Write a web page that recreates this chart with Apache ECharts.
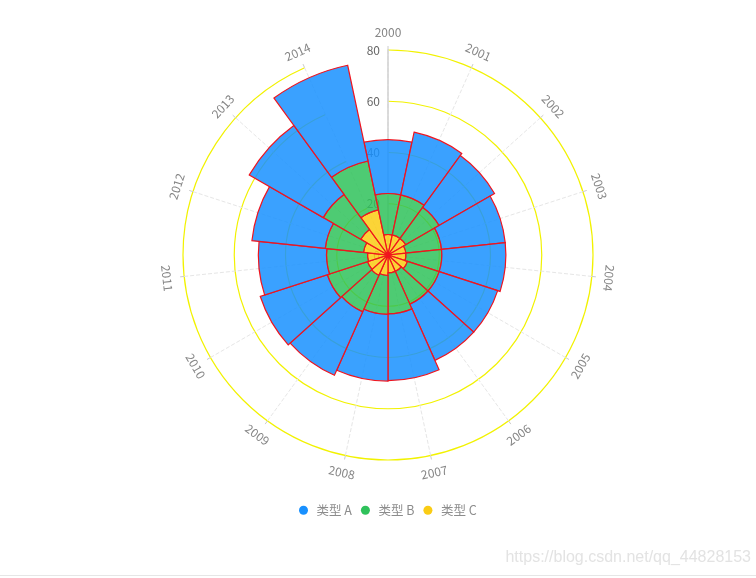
<!DOCTYPE html>
<html>
<head>
<meta charset="utf-8">
<script src="https://cdn.jsdelivr.net/npm/echarts@6/dist/echarts.min.js"></script>
<style>html,body{margin:0;padding:0;background:#fff}#c{width:756px;height:578px}</style>
</head>
<body>
<div id="c"></div>
<script>
const years = ['2000','2001','2002','2003','2004','2005','2006','2007','2008','2009','2010','2011','2012','2013','2014'];
const seriesNames = ['类型 A','类型 B','类型 C'];
const valuesA = [21,25,25,25,25,24,24,26,26,27.1,27.5,26.6,28.8,33.3,38.2];
const valuesB = [16,16,15,14,14,13,14,16,15.2,15.6,16.5,16,15,16.9,19.5];
const valuesC = [8,8,8,7,7,8,7,7,8,8.7,8.4,8,9.6,12.3,18];
const radiusMin = 0, radiusMax = 80, radiusStep = 20;

const colors = {A:'#1890FF', B:'#2FC25B', C:'#FACC14'};
const fills = {A:'rgba(24,144,255,0.85)', B:'rgba(47,194,91,0.85)', C:'rgba(250,204,20,0.85)'};
const FONT = '"Noto Sans CJK SC","Noto Sans",sans-serif';

const chart = echarts.init(document.getElementById('c'), null, {renderer:'canvas'});

function labelRotate(i){
  const a = i * 360 / years.length;
  let r = -a;
  if (a > 100 && a < 270) r += 180;
  return r;
}
const LABEL_R = 86.7;

function barSeries(name, data, key){
  return {
    type:'bar', coordinateSystem:'polar', name:name, data:data, stack:'total',
    barCategoryGap:'0%', z:3,
    itemStyle:{color:fills[key], borderColor:'#f0141e', borderWidth:1.2},
    emphasis:{disabled:true}
  };
}

chart.setOption({
  backgroundColor:'#fff',
  animation:false,
  textStyle:{fontFamily:FONT},
  polar:{center:[388,255], radius:205},
  radiusAxis:{
    min:radiusMin, max:radiusMax, interval:radiusStep, z:1,
    axisLine:{show:true, lineStyle:{color:'#d0d0d0', width:1.5}},
    axisTick:{show:false},
    axisLabel:{color:'#666', fontSize:12, margin:8, fontFamily:FONT},
    splitLine:{show:true, lineStyle:{color:'#f2f200', width:1.2}}
  },
  angleAxis:{
    type:'category', data:years, boundaryGap:false, startAngle:90, clockwise:true, z:1,
    axisLine:{show:false},
    axisTick:{show:true, length:4, lineStyle:{color:'#cccccc'}},
    axisLabel:{show:false},
    splitLine:{show:true, lineStyle:{color:'#e6e6e6', type:'dashed'}}
  },
  legend:{
    data:[
      {name:seriesNames[0], itemStyle:{color:colors.A, borderWidth:0}},
      {name:seriesNames[1], itemStyle:{color:colors.B, borderWidth:0}},
      {name:seriesNames[2], itemStyle:{color:colors.C, borderWidth:0}}
    ],
    left:294, top:499, icon:'circle', itemWidth:16, itemHeight:9, itemGap:9,
    itemStyle:{borderWidth:0},
    textStyle:{color:'#8c8c8c', fontSize:12.5, fontFamily:FONT}
  },
  series:[
    barSeries(seriesNames[2], valuesC, 'C'),
    barSeries(seriesNames[1], valuesB, 'B'),
    barSeries(seriesNames[0], valuesA, 'A'),
    {
      type:'scatter', coordinateSystem:'polar', name:'labels', silent:true, clip:false, z:5,
      symbolSize:1, itemStyle:{color:'rgba(0,0,0,0)'},
      data: years.map((y,i)=>({value:[LABEL_R, i], label:{rotate:labelRotate(i)}})),
      label:{show:true, position:'inside', formatter:p=>years[p.dataIndex], color:'#666', fontSize:12, fontFamily:FONT}
    }
  ],
  graphic:[
    {type:'text', right:5, top:550, silent:true,
     style:{text:'https://blog.csdn.net/qq_44828153', fill:'#e3e3e3', font:'16px "Liberation Sans", Arial, sans-serif'}},
    {type:'line', silent:true, shape:{x1:0, y1:575.5, x2:756, y2:575.5}, style:{stroke:'#e6e6e6', lineWidth:1}}
  ]
});
</script>
</body>
</html>
